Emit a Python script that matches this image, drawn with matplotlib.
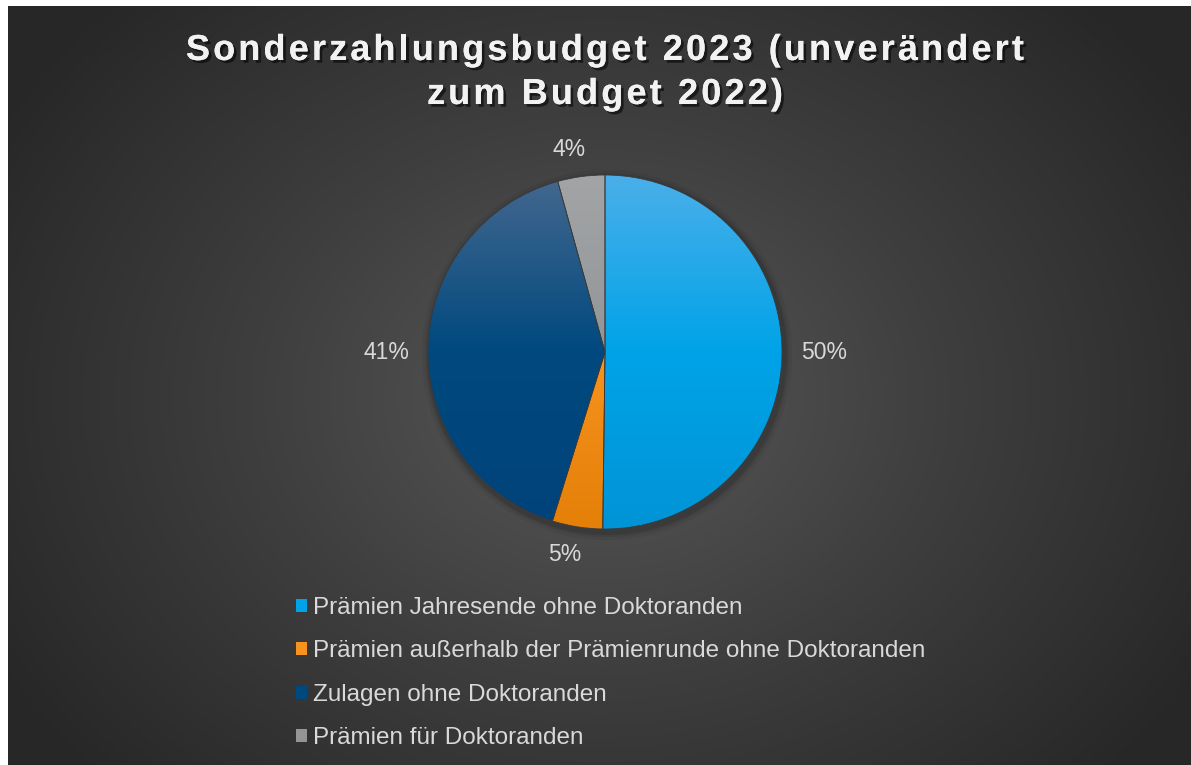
import numpy as np
import matplotlib.pyplot as plt
from matplotlib import patheffects as pe
from matplotlib.colors import LinearSegmentedColormap
from matplotlib.patches import Patch, Circle

# Daten
kategorien = ['Prämien Jahresende ohne Doktoranden',
              'Prämien außerhalb der Prämienrunde ohne Doktoranden',
              'Zulagen ohne Doktoranden',
              'Prämien für Doktoranden']
anteile = [50.2, 4.6, 40.9, 4.3]
beschriftung = ['50%', '5%', '41%', '4%']
titel_zeilen = ['Sonderzahlungsbudget 2023 (unverändert', 'zum Budget 2022)']

# Farben (hell oben, Grundfarbe, dunkel unten)
farben = ['#00A3E8', '#F7941D', '#00497E', '#939698']
farben_hell = ['#4AAFEA', '#F9A040', '#44688F', '#A2A4A6']
farben_dunkel = ['#0094D6', '#E47F08', '#00437A', '#8A8D8F']

W, H = 1191, 765
plt.rcParams['font.family'] = ['Liberation Sans', 'DejaVu Sans']

fig = plt.figure(figsize=(W / 100, H / 100), dpi=100)
fig.patch.set_facecolor('white')
ax = fig.add_axes([0, 0, 1, 1])
ax.axis('off')

# Hintergrund mit radialem Verlauf
yy, xx = np.mgrid[0:H - 6, 8:W]
dist = np.sqrt(((xx - 600) / 700) ** 2 + ((yy - 390) / 560) ** 2)
hg = LinearSegmentedColormap.from_list('hg', ['#585858', '#3e3e3e', '#272727'])
ax.imshow(np.clip(dist, 0, 1), cmap=hg, vmin=0, vmax=1, extent=(8, W, 0, H - 6),
          origin='upper', aspect='auto', zorder=0)

# Kreisdiagramm
cx, cy, r = 605, H - 352, 177
for k, a in [(8, 0.05), (5, 0.07), (3, 0.1)]:
    ax.add_patch(Circle((cx + 2, cy - 3), r + k, color='black', alpha=a, lw=0, zorder=1))

wedges, _ = ax.pie(anteile, startangle=90, counterclock=False, center=(cx, cy),
                   radius=r, frame=True, colors=farben,
                   wedgeprops=dict(linewidth=0.6, edgecolor='#3a3a3a'))
verlauf = np.linspace(0, 1, 256).reshape(-1, 1)
for w, hell, mitte, dunkel in zip(wedges, farben_hell, farben, farben_dunkel):
    w.set_zorder(3)
    w.set_facecolor('none')
    cm = LinearSegmentedColormap.from_list('v', [hell, mitte, dunkel])
    im = ax.imshow(verlauf, cmap=cm, extent=(cx - r, cx + r, cy - r, cy + r),
                   origin='upper', aspect='auto', zorder=2)
    im.set_clip_path(w)

# Prozentbeschriftung
for w, txt in zip(wedges, beschriftung):
    mid = np.deg2rad((w.theta1 + w.theta2) / 2)
    d = r + 25 + 17 * abs(np.cos(mid))
    if abs(np.sin(mid)) > 0.5:  # oben / unten
        x, y = cx + d * np.cos(mid) - 8, cy + d * np.sin(mid)
    else:                       # links / rechts
        x, y = cx + d * np.cos(mid), cy
    ax.text(x, y, txt, ha='center', va='center', fontsize=16.5, color='#D9D9D9', zorder=4)

# Titel mit Sperrung
renderer = fig.canvas.get_renderer()
def breite(s, **kw):
    t = ax.text(0, 0, s, **kw)
    b = t.get_window_extent(renderer).width
    t.remove()
    return b

titel_kw = dict(fontsize=26, fontweight='bold')
sperr = 3.1
schatten = [pe.withSimplePatchShadow(offset=(2, -2), shadow_rgbFace='black', alpha=0.55),
            pe.Normal()]
for zeile, y in zip(titel_zeilen, [H - 60, H - 104]):
    ref = breite('xx', **titel_kw)
    bw = [breite('x' + ch + 'x', **titel_kw) - ref for ch in zeile]
    gesamt = sum(bw) + sperr * (len(zeile) - 1)
    x = 605 - gesamt / 2
    for ch, b in zip(zeile, bw):
        t = ax.text(x, y, ch, ha='left', va='baseline', color='#F2F2F2', zorder=5, **titel_kw)
        t.set_path_effects(schatten)
        x += b + sperr

# Legende
handles = [Patch(facecolor=f, edgecolor='none') for f in farben]
leg = ax.legend(handles, kategorien, loc='upper left', bbox_to_anchor=(296 / W, 1 - 597 / H),
                frameon=False, fontsize=17.5, labelcolor='#D9D9D9', handlelength=0.45,
                handleheight=0.45, handletextpad=0.25, labelspacing=0.88, borderpad=0,
                borderaxespad=0)

ax.set_xlim(0, W)
ax.set_ylim(0, H)
fig.savefig('out.png', dpi=100, facecolor='white')
